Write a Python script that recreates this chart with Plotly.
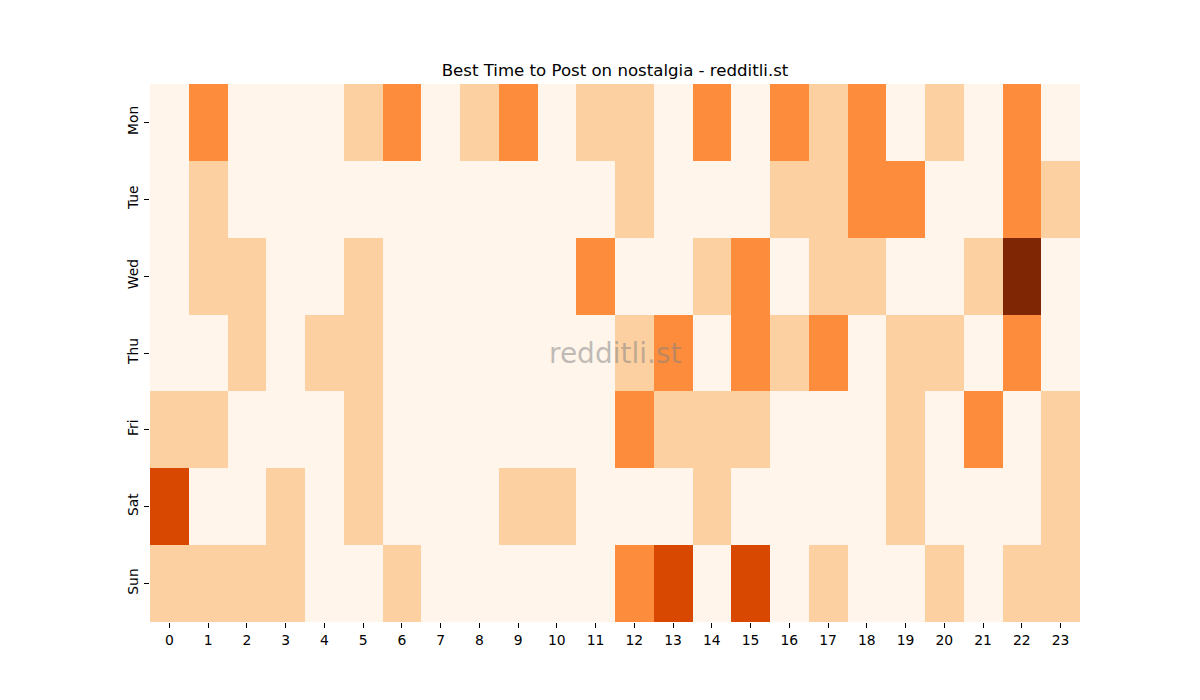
import plotly.graph_objects as go

days = ["Mon", "Tue", "Wed", "Thu", "Fri", "Sat", "Sun"]
hours = list(range(24))

mon = [0, 2, 0, 0, 0, 1, 2, 0, 1, 2, 0, 1, 1, 0, 2, 0, 2, 1, 2, 0, 1, 0, 2, 0]
tue = [0, 1, 0, 0, 0, 0, 0, 0, 0, 0, 0, 0, 1, 0, 0, 0, 1, 1, 2, 2, 0, 0, 2, 1]
wed = [0, 1, 1, 0, 0, 1, 0, 0, 0, 0, 0, 2, 0, 0, 1, 2, 0, 1, 1, 0, 0, 1, 4, 0]
thu = [0, 0, 1, 0, 1, 1, 0, 0, 0, 0, 0, 0, 1, 2, 0, 2, 1, 2, 0, 1, 1, 0, 2, 0]
fri = [1, 1, 0, 0, 0, 1, 0, 0, 0, 0, 0, 0, 2, 1, 1, 1, 0, 0, 0, 1, 0, 2, 0, 1]
sat = [3, 0, 0, 1, 0, 1, 0, 0, 0, 1, 1, 0, 0, 0, 1, 0, 0, 0, 0, 1, 0, 0, 0, 1]
sun = [1, 1, 1, 1, 0, 0, 1, 0, 0, 0, 0, 0, 2, 3, 0, 3, 0, 1, 0, 0, 1, 0, 1, 1]

z = [mon, tue, wed, thu, fri, sat, sun]

oranges = [
    [0.0, "#fff5eb"], [0.125, "#fee6ce"], [0.25, "#fdd0a2"], [0.375, "#fdae6b"],
    [0.5, "#fd8d3c"], [0.625, "#f16913"], [0.75, "#d94801"], [0.875, "#a63603"],
    [1.0, "#7f2704"],
]

fig = go.Figure(go.Heatmap(
    z=z, x=hours, y=days, colorscale=oranges, zmin=0, zmax=4,
    showscale=False, xgap=0, ygap=0,
))

font = "DejaVu Sans"
fig.update_layout(
    width=1200, height=700,
    margin=dict(l=150, r=120, t=84, b=78),
    paper_bgcolor="white", plot_bgcolor="white",
    font=dict(family=font, size=13.9, color="black"),
    title=dict(text="Best Time to Post on nostalgia - redditli.st",
               x=615 / 1200, xanchor="center", y=1 - 70 / 700, yanchor="middle",
               font=dict(family=font, size=16.6, color="black")),
    xaxis=dict(tickmode="array", tickvals=hours, ticktext=[str(h) for h in hours],
               ticks="outside", ticklen=5, tickcolor="black", showgrid=False,
               zeroline=False, showline=False, range=[-0.5, 23.5]),
    yaxis=dict(autorange="reversed", ticks="outside", ticklen=5, tickcolor="black",
               tickangle=-90, showgrid=False, zeroline=False, showline=False),
    annotations=[dict(text="redditli.st", xref="paper", yref="paper", x=0.5, y=0.5,
                      xanchor="center", yanchor="middle", showarrow=False,
                      font=dict(family=font, size=28, color="rgba(128,128,128,0.5)"))],
)

fig.write_html("out.html")
